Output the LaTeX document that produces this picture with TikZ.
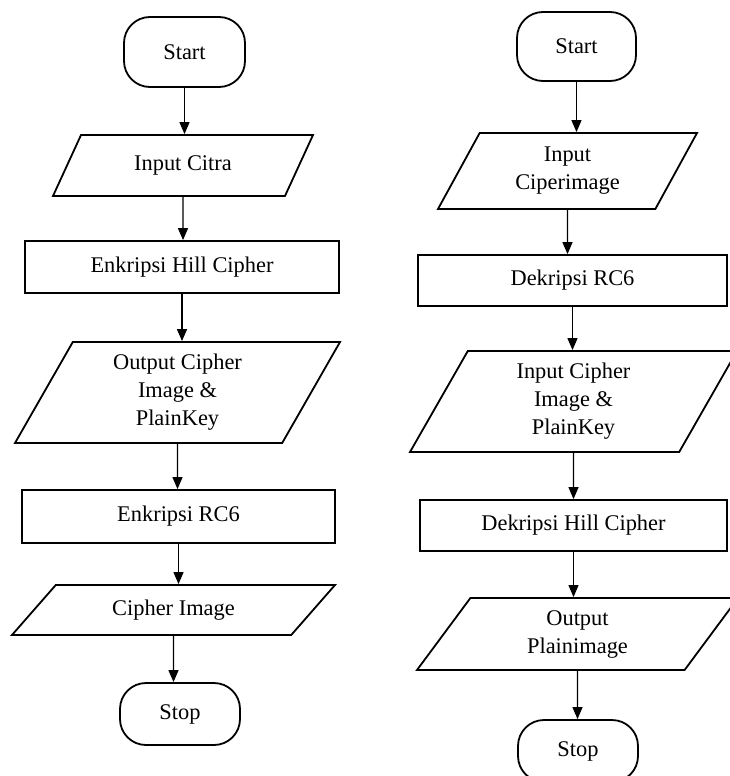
\documentclass[tikz,border=0pt]{standalone}
\usepackage{fontspec}
\setmainfont{Liberation Serif}
\usetikzlibrary{arrows.meta,shapes.geometric}

\begin{document}
\begin{tikzpicture}[
    x=0.5pt, y=-0.5pt,
    font=\fontsize{11.2}{14}\selectfont,
    term/.style={rectangle, draw, rounded corners=13pt, line width=0.9pt, minimum width=60pt, minimum height=34pt},
    proc/.style={rectangle, draw, line width=0.9pt, minimum height=26pt, align=center},
    io/.style={trapezium, draw, line width=0.9pt, trapezium stretches body, trapezium left angle=#1, trapezium right angle={180-#1}, align=center, inner xsep=2pt},
    arr/.style={-{Triangle[width=5pt,length=6pt]}, line width=0.6pt},
]
    \useasboundingbox (0,0) rectangle (729,776);

    % enkripsi
    \node[term, minimum width=60.5pt, minimum height=35pt] (startA) at (184.5,52) {Start};
    \node[io=49.6, minimum width=130pt, minimum height=30.5pt] (citra) at (183,165.5) {Input Citra};
    \node[proc, minimum width=157pt] (hillA) at (182,267) {Enkripsi Hill Cipher};
    \node[io=57.2, minimum width=162.5pt, minimum height=50.5pt] (outA) at (177.5,392.5) {Output Cipher\\Image \&\\PlainKey};
    \node[proc, minimum width=156.5pt, minimum height=26.5pt] (rc6A) at (178.5,516.5) {Enkripsi RC6};
    \node[io=37.6, minimum width=161.5pt, minimum height=25pt] (cimg) at (173.5,610) {Cipher Image};
    \node[term, minimum width=60pt, minimum height=31pt] (stopA) at (180,714) {Stop};

    % dekripsi
    \node[term, minimum width=59.5pt, minimum height=34.5pt] (startB) at (576.5,46.5) {Start};
    \node[io=55.6, minimum width=129.5pt, minimum height=38pt] (cimgIn) at (567.5,171) {Input\\Ciperimage};
    \node[proc, minimum width=154.5pt, minimum height=25.5pt] (rc6B) at (572.5,280.5) {Dekripsi RC6};
    \node[io=57.2, minimum width=163.5pt, minimum height=50.5pt] (keyIn) at (573.5,401.5) {Input Cipher\\Image \&\\PlainKey};
    \node[proc, minimum width=153.5pt, minimum height=25.5pt] (hillB) at (573.5,525.5) {Dekripsi Hill Cipher};
    \node[io=48.8, minimum width=160.5pt, minimum height=36pt] (plain) at (577.5,634) {Output\\Plainimage};
    \node[term, minimum width=60pt, minimum height=31pt] (stopB) at (578,751) {Stop};

    \foreach \a/\b in {startA/citra, citra/hillA, hillA/outA, outA/rc6A, rc6A/cimg, cimg/stopA,
                       startB/cimgIn, cimgIn/rc6B, rc6B/keyIn, keyIn/hillB, hillB/plain, plain/stopB}
        \draw[arr] (\a) -- (\a |- \b.north);
\end{tikzpicture}
\end{document}
